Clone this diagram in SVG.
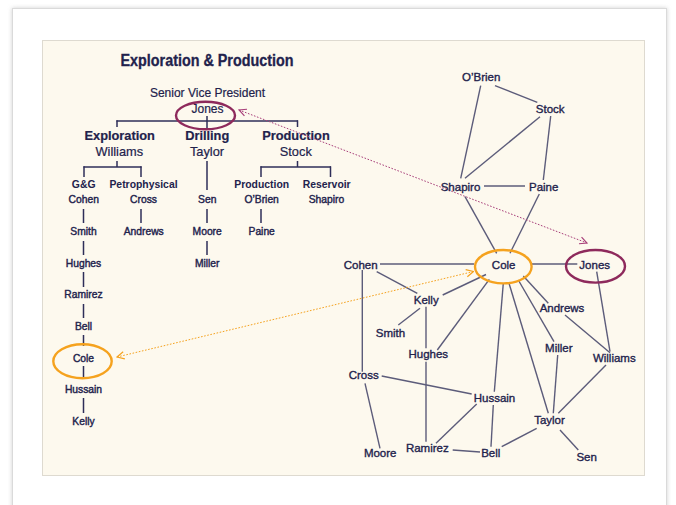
<svg xmlns="http://www.w3.org/2000/svg" width="676" height="505" viewBox="0 0 676 505">
<defs>
<style>
text{font-family:"Liberation Sans",Arial,sans-serif;fill:#22224c;text-anchor:middle}
.t{font-size:16px;font-weight:bold;stroke:#22224c;stroke-width:0.3}
.l1{font-size:12px;stroke:#22224c;stroke-width:0.2}
.h2{font-size:12.8px;font-weight:bold;stroke:#22224c;stroke-width:0.2}
.n2{font-size:12.8px;stroke:#22224c;stroke-width:0.2}
.h3{font-size:10.4px;font-weight:bold}
.n3{font-size:10.3px;stroke:#22224c;stroke-width:0.4}
.nn{font-size:11.5px;stroke:#22224c;stroke-width:0.35}
.org line{stroke:#2e2e58;stroke-width:1.5}
.net line{stroke:#5c5c7a;stroke-width:1.4}
</style>
<marker id="ap" viewBox="0 0 10 10" refX="9" refY="5" markerWidth="9" markerHeight="9" markerUnits="userSpaceOnUse" orient="auto-start-reverse">
<path d="M1,1 L9,5 L1,9" fill="none" stroke="#a8407a" stroke-width="1.3"/>
</marker>
<marker id="ao" viewBox="0 0 10 10" refX="9" refY="5" markerWidth="9" markerHeight="9" markerUnits="userSpaceOnUse" orient="auto-start-reverse">
<path d="M1,1 L9,5 L1,9" fill="none" stroke="#f5a21e" stroke-width="1.3"/>
</marker>
<filter id="sh" x="-5%" y="-5%" width="110%" height="110%">
<feGaussianBlur stdDeviation="2"/>
</filter>
</defs>
<rect width="676" height="505" fill="#ffffff"/>
<rect x="12" y="8" width="655" height="505" fill="#d0d0d0" filter="url(#sh)"/>
<rect x="12.5" y="8.5" width="654" height="505" fill="#ffffff" stroke="#dadada"/>
<rect x="42.5" y="40.5" width="602" height="435" fill="#fdf9ee" stroke="#dedad0"/>

<g id="org" class="org">
<line x1="207" y1="116" x2="207" y2="129"/>
<line x1="116.5" y1="121" x2="298" y2="121"/>
<line x1="117" y1="120.3" x2="117" y2="127"/>
<line x1="297.5" y1="120.3" x2="297.5" y2="127"/>
<line x1="117" y1="161" x2="117" y2="167"/>
<line x1="83.5" y1="167" x2="141.5" y2="167"/>
<line x1="84" y1="166.3" x2="84" y2="177"/>
<line x1="141" y1="166.3" x2="141" y2="177"/>
<line x1="207" y1="161" x2="207" y2="190"/>
<line x1="297.5" y1="161" x2="297.5" y2="167"/>
<line x1="260.5" y1="167" x2="331" y2="167"/>
<line x1="261" y1="166.3" x2="261" y2="177"/>
<line x1="330.5" y1="166.3" x2="330.5" y2="177"/>
<line x1="83.5" y1="209" x2="83.5" y2="223"/>
<line x1="83.5" y1="241" x2="83.5" y2="255"/>
<line x1="83.5" y1="272" x2="83.5" y2="287"/>
<line x1="83.5" y1="304" x2="83.5" y2="318"/>
<line x1="83.5" y1="335" x2="83.5" y2="346"/>
<line x1="83.5" y1="366" x2="83.5" y2="379"/>
<line x1="83.5" y1="398" x2="83.5" y2="413"/>
<line x1="141" y1="209" x2="141" y2="223"/>
<line x1="207" y1="209" x2="207" y2="223"/>
<line x1="207" y1="241" x2="207" y2="255"/>
<line x1="261" y1="209" x2="261" y2="223"/>
</g>

<g id="org-text">
<text class="t" x="207" y="66" textLength="173" lengthAdjust="spacingAndGlyphs">Exploration &amp; Production</text>
<text class="l1" x="207.5" y="97.3">Senior Vice President</text>
<text class="l1" x="207.5" y="112.7">Jones</text>
<ellipse cx="205.5" cy="115.5" rx="29.5" ry="13.8" fill="none" stroke="#8e2a5c" stroke-width="2.4"/>
<text class="h2" x="119.7" y="140">Exploration</text>
<text class="n2" x="119.3" y="155.7">Williams</text>
<text class="h2" x="207.2" y="140">Drilling</text>
<text class="n2" x="207" y="155.7">Taylor</text>
<text class="h2" x="296" y="140">Production</text>
<text class="n2" x="295.8" y="155.7">Stock</text>
<text class="h3" x="83.7" y="188.3">G&amp;G</text>
<text class="h3" x="143.5" y="188.3">Petrophysical</text>
<text class="h3" x="261.7" y="188.3">Production</text>
<text class="h3" x="326.7" y="188.3">Reservoir</text>
<text class="n3" x="83.7" y="203.3">Cohen</text>
<text class="n3" x="143.5" y="203.3">Cross</text>
<text class="n3" x="207.2" y="203.3">Sen</text>
<text class="n3" x="261.7" y="203.3">O’Brien</text>
<text class="n3" x="326.5" y="203.3">Shapiro</text>
<text class="n3" x="83.5" y="235">Smith</text>
<text class="n3" x="143.7" y="235">Andrews</text>
<text class="n3" x="207.2" y="235">Moore</text>
<text class="n3" x="261.7" y="235">Paine</text>
<text class="n3" x="83.5" y="266.7">Hughes</text>
<text class="n3" x="207.2" y="266.7">Miller</text>
<text class="n3" x="83.5" y="298.3">Ramirez</text>
<text class="n3" x="83.5" y="329.5">Bell</text>
<text class="n3" x="83.5" y="362">Cole</text>
<ellipse cx="82.5" cy="361.3" rx="29.2" ry="17" fill="none" stroke="#f5a21e" stroke-width="2.4"/>
<text class="n3" x="83.5" y="393.3">Hussain</text>
<text class="n3" x="83.5" y="425">Kelly</text>
</g>

<g id="connectors" class="net">
<line x1="480.7" y1="85.7" x2="460.7" y2="178.3"/>
<line x1="495" y1="85.7" x2="537.3" y2="102.3"/>
<line x1="540" y1="116.7" x2="465" y2="178.3"/>
<line x1="550.7" y1="116" x2="543.3" y2="180"/>
<line x1="484" y1="186" x2="525" y2="186"/>
<line x1="465" y1="196.7" x2="496.7" y2="253.3"/>
<line x1="539.3" y1="194" x2="510" y2="253.3"/>
<line x1="380" y1="264" x2="474" y2="264"/>
<line x1="531.7" y1="264" x2="577.3" y2="264"/>
<line x1="376.7" y1="271.7" x2="417.3" y2="293.3"/>
<line x1="362.3" y1="270" x2="362.3" y2="371.7"/>
<line x1="442.7" y1="295" x2="486" y2="274.5"/>
<line x1="437.3" y1="350" x2="489.3" y2="279.3"/>
<line x1="420" y1="308.3" x2="398.3" y2="325"/>
<line x1="426" y1="306.7" x2="426" y2="348.3"/>
<line x1="426" y1="361.7" x2="426" y2="441.7"/>
<line x1="503.3" y1="283.3" x2="494.3" y2="391.7"/>
<line x1="493.3" y1="405" x2="491" y2="446.7"/>
<line x1="509" y1="283.3" x2="548.3" y2="413.3"/>
<line x1="518.3" y1="280" x2="554" y2="341.7"/>
<line x1="523.3" y1="276" x2="548.3" y2="303.3"/>
<line x1="557.7" y1="355" x2="553.3" y2="413.3"/>
<line x1="565" y1="315" x2="610" y2="352.7"/>
<line x1="596.7" y1="271.7" x2="610" y2="351.7"/>
<line x1="606" y1="365" x2="558.3" y2="413.3"/>
<line x1="381.7" y1="376" x2="471.7" y2="394"/>
<line x1="365" y1="383.3" x2="380" y2="448.3"/>
<line x1="476.7" y1="404" x2="436" y2="443.3"/>
<line x1="452.7" y1="450" x2="480" y2="452"/>
<line x1="501.7" y1="446.7" x2="536.7" y2="428.3"/>
<line x1="560" y1="430" x2="578.3" y2="450"/>
<line x1="239" y1="110" x2="587" y2="243" marker-start="url(#ap)" marker-end="url(#ap)" style="stroke:#a8407a;stroke-width:1;stroke-dasharray:1.6 1.6"/>
<line x1="117" y1="357" x2="473.5" y2="271.5" marker-start="url(#ao)" marker-end="url(#ao)" style="stroke:#f5a21e;stroke-width:1;stroke-dasharray:1.6 1.6"/>
</g>

<g id="n-obrien"><text class="nn" x="481.2" y="80.7">O’Brien</text></g>
<g id="n-stock"><text class="nn" x="550.2" y="112.7">Stock</text></g>
<g id="n-shapiro"><text class="nn" x="460.5" y="191">Shapiro</text></g>
<g id="n-paine"><text class="nn" x="543.7" y="191">Paine</text></g>
<g id="n-cohen"><text class="nn" x="360.7" y="268.7">Cohen</text></g>
<g id="n-cole"><text class="nn" x="503.7" y="269.3">Cole</text><ellipse cx="503.3" cy="266.7" rx="28.3" ry="16.7" fill="none" stroke="#f5a21e" stroke-width="2.4"/></g>
<g id="n-jones"><text class="nn" x="594.7" y="269.3">Jones</text><ellipse cx="595.5" cy="266.3" rx="29.5" ry="16.3" fill="none" stroke="#8e2a5c" stroke-width="2.4"/></g>
<g id="n-kelly"><text class="nn" x="426.2" y="304">Kelly</text></g>
<g id="n-andrews"><text class="nn" x="562" y="311.7">Andrews</text></g>
<g id="n-smith"><text class="nn" x="390.5" y="336.7">Smith</text></g>
<g id="n-hughes"><text class="nn" x="428.3" y="358.3">Hughes</text></g>
<g id="n-miller"><text class="nn" x="558.8" y="352.3">Miller</text></g>
<g id="n-williams"><text class="nn" x="614.3" y="362">Williams</text></g>
<g id="n-cross"><text class="nn" x="363.7" y="379.3">Cross</text></g>
<g id="n-hussain"><text class="nn" x="494.5" y="401.7">Hussain</text></g>
<g id="n-taylor"><text class="nn" x="549.5" y="424.3">Taylor</text></g>
<g id="n-moore"><text class="nn" x="380.2" y="456.7">Moore</text></g>
<g id="n-ramirez"><text class="nn" x="427.3" y="452.3">Ramirez</text></g>
<g id="n-bell"><text class="nn" x="490.8" y="456.7">Bell</text></g>
<g id="n-sen"><text class="nn" x="586.7" y="461">Sen</text></g>
</svg>
